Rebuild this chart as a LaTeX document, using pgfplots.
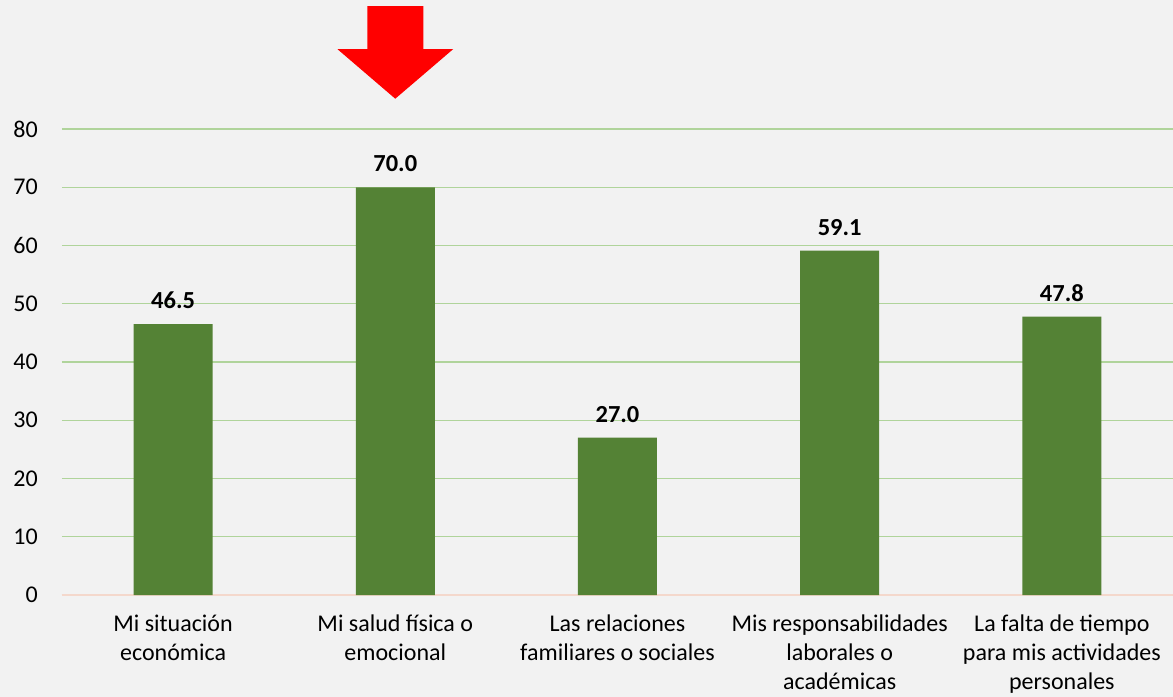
\documentclass[border=0pt]{standalone}
\usepackage{pgfplots}
\pgfplotsset{compat=1.18}
\usepackage{fontspec}
\setmainfont{Carlito}
\definecolor{bgcol}{HTML}{F2F2F2}
\definecolor{barcol}{HTML}{548235}
\definecolor{gridgreen}{HTML}{B0D49B}
\definecolor{zerocol}{HTML}{F4D8CC}
\begin{document}
\begin{tikzpicture}
\fill[bgcol] (-62bp,-102bp) rectangle (1111bp,595bp);
\begin{axis}[
  at={(0,0)}, anchor=south west,
  scale only axis, width=1111bp, height=466bp,
  xmin=-0.5, xmax=4.5, ymin=0, ymax=80,
  ytick={0,10,...,80},
  xtick={0,1,2,3,4},
  xticklabels={{Mi situación\\económica},{Mi salud física o\\emocional},{Las relaciones\\familiares o sociales},{Mis responsabilidades\\laborales o\\académicas},{La falta de tiempo\\para mis actividades\\personales}},
  xticklabel style={align=center, anchor=north, inner sep=0pt, yshift=-20bp, font=\fontsize{24bp}{29bp}\selectfont},
  yticklabel style={anchor=east, inner sep=0pt, xshift=-24bp, font=\fontsize{24bp}{29bp}\selectfont},
  /pgf/number format/assume math mode=true,
  major tick length=0pt,
  axis line style={draw=none},
  xmajorgrids=false, ymajorgrids=true,
  major grid style={draw=gridgreen, line width=1.3bp},
  clip=false,
  ybar, bar width=79bp,
  nodes near coords,
  nodes near coords style={font=\bfseries\fontsize{24.5bp}{29bp}\selectfont, anchor=south, inner sep=0pt, yshift=15bp, /pgf/number format/.cd, fixed, fixed zerofill, precision=1, assume math mode=true},
]
\draw[zerocol, line width=1.5bp] (axis cs:-0.5,0) -- (axis cs:4.5,0);
\addplot[fill=barcol, draw=none] coordinates {(0,46.5) (1,70.0) (2,27.0) (3,59.1) (4,47.8)};
\fill[red] (axis cs:0.874,101.1) -- (axis cs:1.126,101.1) -- (axis cs:1.126,93.7) -- (axis cs:1.26,93.7) -- (axis cs:1.0,85.2) -- (axis cs:0.74,93.7) -- (axis cs:0.874,93.7) -- cycle;
\end{axis}
\pgfresetboundingbox
\path (-62bp,-102bp) rectangle (1111bp,595bp);
\end{tikzpicture}
\end{document}
